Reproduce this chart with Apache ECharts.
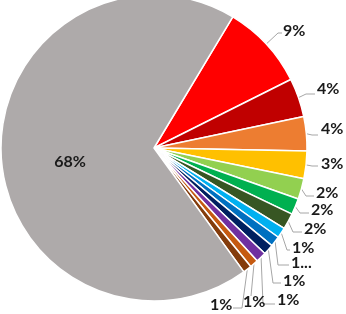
<!DOCTYPE html>
<html><head><meta charset="utf-8">
<script src="https://cdn.jsdelivr.net/npm/echarts@6/dist/echarts.min.js"></script>
<style>html,body{margin:0;padding:0;background:#fff}#c{width:346px;height:314px}</style>
</head><body><div id="c"></div>
<script>
const categories = ['A','B','C','D','E','F','G','H','I','J','K','L','M','N'];
const values = [9.0, 4.1, 3.6, 2.9, 2.2, 1.7, 1.7, 1.1, 1.1, 1.1, 1.1, 0.9, 0.9, 68.6];
const labelTexts = ['9%','4%','4%','3%','2%','2%','2%','1%','1...','1%','1%','1%','1%','68%'];
const colors = ['#FF0000','#C00000','#ED7D31','#FFC000','#92D050','#00B050','#375623','#00B0F0','#0070C0','#002060','#7030A0','#C55A11','#843C0C','#AEAAAA'];

// label placement (layout only): [labelX, labelY, align, elbowX, elbowY, endX, endY]
const labelPlace = [
  [283, 31, 'left', 278, 33, 282, 33],
  [317, 89, 'left', 306, 94, 315, 94],
  [321, 129, 'left', 312, 135, 318, 135],
  [321, 164, 'left', 312, 166, 318, 166],
  [316, 193, 'left', 306, 196, 314, 196],
  [311, 210, 'left', 300, 213, 309, 213],
  [304, 229, 'left', 293, 232, 302, 232],
  [292, 248, 'left', 287, 250, 290, 250],
  [291, 263, 'left', 278, 265, 289, 265],
  [283, 281, 'left', 273, 283, 281, 283],
  [277, 300, 'left', 263, 304, 275, 304],
  [243, 302, 'left', 251, 296, 251, 296],
  [210, 305, 'left', 242, 308, 233, 308],
  [70, 162, 'center', null]
];

const chart = echarts.init(document.getElementById('c'), null, {renderer:'canvas'});
const data = categories.map((c,i)=>{
  const d = {name:c, value:values[i], itemStyle:{color:colors[i]}};
  if (i === categories.length-1) {
    d.label = {position:'inside'};
    d.labelLine = {show:false};
  }
  return d;
});
chart.setOption({
  animation:false,
  series:[{
    type:'pie',
    center:[154,148],
    radius:[0,153],
    startAngle:59,
    clockwise:true,
    avoidLabelOverlap:false,
    itemStyle:{borderColor:'#fff', borderWidth:1.5},
    label:{
      show:true,
      formatter:p=>labelTexts[p.dataIndex],
      fontFamily:'Lato',
      fontWeight:'bold',
      fontSize:16,
      color:'#1a1a1a',
      overflow:'none'
    },
    labelLine:{show:true, length:6, length2:6, lineStyle:{color:'#A6A6A6', width:1}},
    labelLayout:function(p){
      const s = labelPlace[p.dataIndex];
      const out = {x:s[0], y:s[1], align:s[2], verticalAlign:'middle', fontSize:16};
      if (s[3] != null && p.labelLinePoints) {
        const start = p.labelLinePoints[0];
        out.labelLinePoints = [start, [s[3], s[4]], [s[5], s[6]]];
      }
      return out;
    },
    emphasis:{disabled:true},
    data:data
  }]
});
</script></body></html>
